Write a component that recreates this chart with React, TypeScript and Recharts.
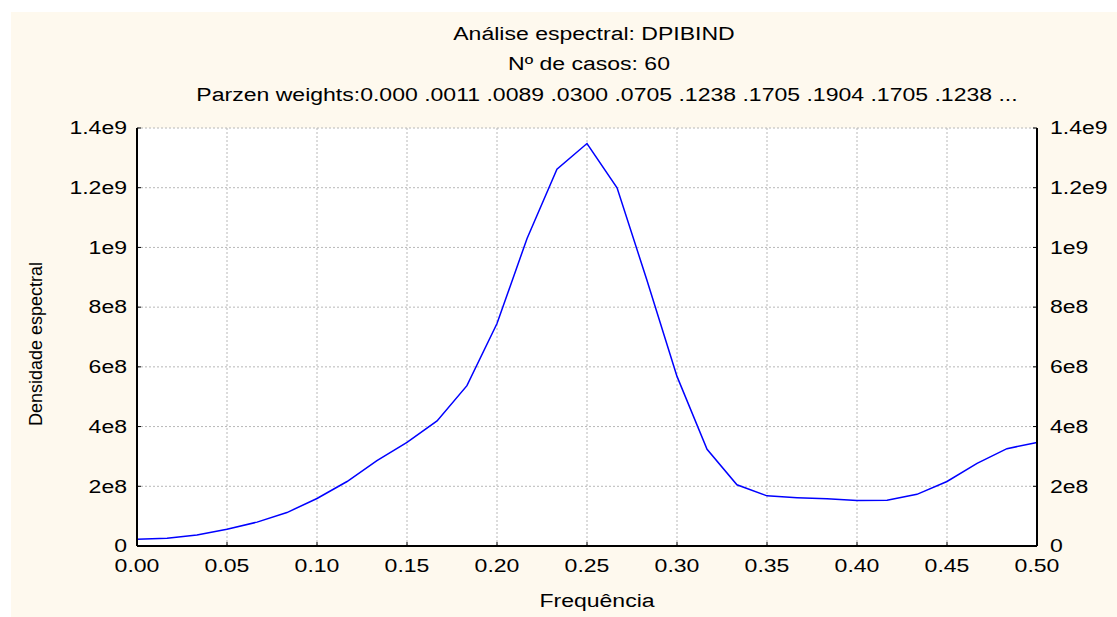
import React from 'react';
import { LineChart, Line, XAxis, YAxis, CartesianGrid } from 'recharts';

// frequencies (k/60) and spectral density
const frequencies = [
  0, 0.0167, 0.0333, 0.05, 0.0667, 0.0833, 0.1, 0.1167, 0.1333, 0.15, 0.1667,
  0.1833, 0.2, 0.2167, 0.2333, 0.25, 0.2667, 0.2833, 0.3, 0.3167, 0.3333,
  0.35, 0.3667, 0.3833, 0.4, 0.4167, 0.4333, 0.45, 0.4667, 0.4833, 0.5,
];
const density = [
  2.25e7, 2.6e7, 3.7e7, 5.6e7, 8.0e7, 1.12e8, 1.59e8, 2.16e8, 2.86e8, 3.47e8,
  4.19e8, 5.37e8, 7.45e8, 1.03e9, 1.262e9, 1.348e9, 1.2e9, 8.9e8, 5.68e8,
  3.24e8, 2.05e8, 1.68e8, 1.62e8, 1.58e8, 1.52e8, 1.53e8, 1.73e8, 2.16e8,
  2.77e8, 3.26e8, 3.47e8,
];

const xTicks = [0, 0.05, 0.1, 0.15, 0.2, 0.25, 0.3, 0.35, 0.4, 0.45, 0.5];
const xTickLabels = ['0.00', '0.05', '0.10', '0.15', '0.20', '0.25', '0.30', '0.35', '0.40', '0.45', '0.50'];
const yTicks = [0, 2e8, 4e8, 6e8, 8e8, 1e9, 1.2e9, 1.4e9];
const yTickLabels = ['0', '2e8', '4e8', '6e8', '8e8', '1e9', '1.2e9', '1.4e9'];

const titleLines = [
  'Análise espectral: DPIBIND',
  'Nº de casos: 60',
  'Parzen weights:0.000 .0011 .0089 .0300 .0705 .1238 .1705 .1904 .1705 .1238 ...',
];

const data = frequencies.map((f, i) => ({ f, d: density[i] }));

const FONT = '"Liberation Sans", Arial, Helvetica, sans-serif';
const STRETCH = 1.28;

const XTick = ({ x, y, payload }: any) => (
  <text
    transform={`translate(${x},${y + 20}) scale(${STRETCH},1)`}
    textAnchor="middle"
    dy="0.35em"
    fontSize={18}
    fontFamily={FONT}
    fill="#000"
  >
    {xTickLabels[xTicks.indexOf(payload.value)]}
  </text>
);

const LeftTick = ({ x, y, payload }: any) => (
  <text
    transform={`translate(${x - 10},${y}) scale(${STRETCH},1)`}
    textAnchor="end"
    dy="0.35em"
    fontSize={18}
    fontFamily={FONT}
    fill="#000"
  >
    {yTickLabels[yTicks.indexOf(payload.value)]}
  </text>
);

const RightTick = ({ x, y, payload }: any) => (
  <text
    transform={`translate(${x + 13},${y}) scale(${STRETCH},1)`}
    textAnchor="start"
    dy="0.35em"
    fontSize={18}
    fontFamily={FONT}
    fill="#000"
  >
    {yTickLabels[yTicks.indexOf(payload.value)]}
  </text>
);

const NoTick = () => <g />;

export default function App() {
  const titleY = [34, 64, 95];
  const titleX = [594, 589, 607];
  return (
    <div style={{ position: 'absolute', left: 0, top: 0, width: 1117, height: 617, background: '#fff' }}>
      <div style={{ position: 'absolute', left: 11, top: 12, width: 1106, height: 605, background: '#FEF9EE' }}>
        <LineChart
          width={1106}
          height={605}
          data={data}
          margin={{ top: 116, right: 0, bottom: 0, left: 0 }}
        >
          <CartesianGrid yAxisId="left" fill="#fff" stroke="#b8b8b8" strokeDasharray="2 2" />
          <XAxis
            dataKey="f"
            type="number"
            domain={[0, 0.5]}
            ticks={xTicks}
            height={71}
            axisLine={{ stroke: '#000', strokeWidth: 2 }}
            tickLine={{ stroke: '#000' }}
            tickSize={-4}
            tickMargin={4}
            tick={<XTick />}
            interval={0}
          />
          <XAxis
            xAxisId="top"
            orientation="top"
            dataKey="f"
            type="number"
            domain={[0, 0.5]}
            ticks={xTicks}
            height={0}
            axisLine={{ stroke: '#000', strokeWidth: 2 }}
            tickLine={{ stroke: '#000' }}
            tickSize={-4}
            tickMargin={4}
            tick={<NoTick />}
            interval={0}
          />
          <YAxis
            yAxisId="left"
            domain={[0, 1.4e9]}
            ticks={yTicks}
            width={126}
            axisLine={{ stroke: '#000', strokeWidth: 2 }}
            tickLine={{ stroke: '#000' }}
            tickSize={-4}
            tickMargin={4}
            tick={<LeftTick />}
            interval={0}
          />
          <YAxis
            yAxisId="right"
            orientation="right"
            domain={[0, 1.4e9]}
            ticks={yTicks}
            width={80}
            axisLine={{ stroke: '#000', strokeWidth: 2 }}
            tickLine={{ stroke: '#000' }}
            tickSize={-4}
            tickMargin={4}
            tick={<RightTick />}
            interval={0}
          />
          {/* invisible twin so the top and right axes get a scale */}
          <Line
            xAxisId="top"
            yAxisId="right"
            type="linear"
            dataKey="d"
            stroke="none"
            dot={false}
            activeDot={false}
            isAnimationActive={false}
          />
          <Line
            yAxisId="left"
            type="linear"
            dataKey="d"
            stroke="#0000ff"
            strokeWidth={1.5}
            dot={false}
            isAnimationActive={false}
          />
        </LineChart>
      </div>
      <svg
        width={1117}
        height={617}
        style={{ position: 'absolute', left: 0, top: 0, pointerEvents: 'none' }}
      >
        {titleLines.map((t, i) => (
          <text
            key={i}
            transform={`translate(${titleX[i]},${titleY[i]}) scale(${STRETCH},1)`}
            textAnchor="middle"
            dy="0.35em"
            fontSize={18}
            fontFamily={FONT}
            fill="#000"
          >
            {t}
          </text>
        ))}
        <text
          transform={`translate(597,601) scale(${STRETCH},1)`}
          textAnchor="middle"
          dy="0.35em"
          fontSize={18}
          fontFamily={FONT}
          fill="#000"
        >
          Frequência
        </text>
        <text
          transform="translate(36,344) rotate(-90)"
          textAnchor="middle"
          dy="0.35em"
          fontSize={18}
          fontFamily={FONT}
          fill="#000"
        >
          Densidade espectral
        </text>
      </svg>
    </div>
  );
}
